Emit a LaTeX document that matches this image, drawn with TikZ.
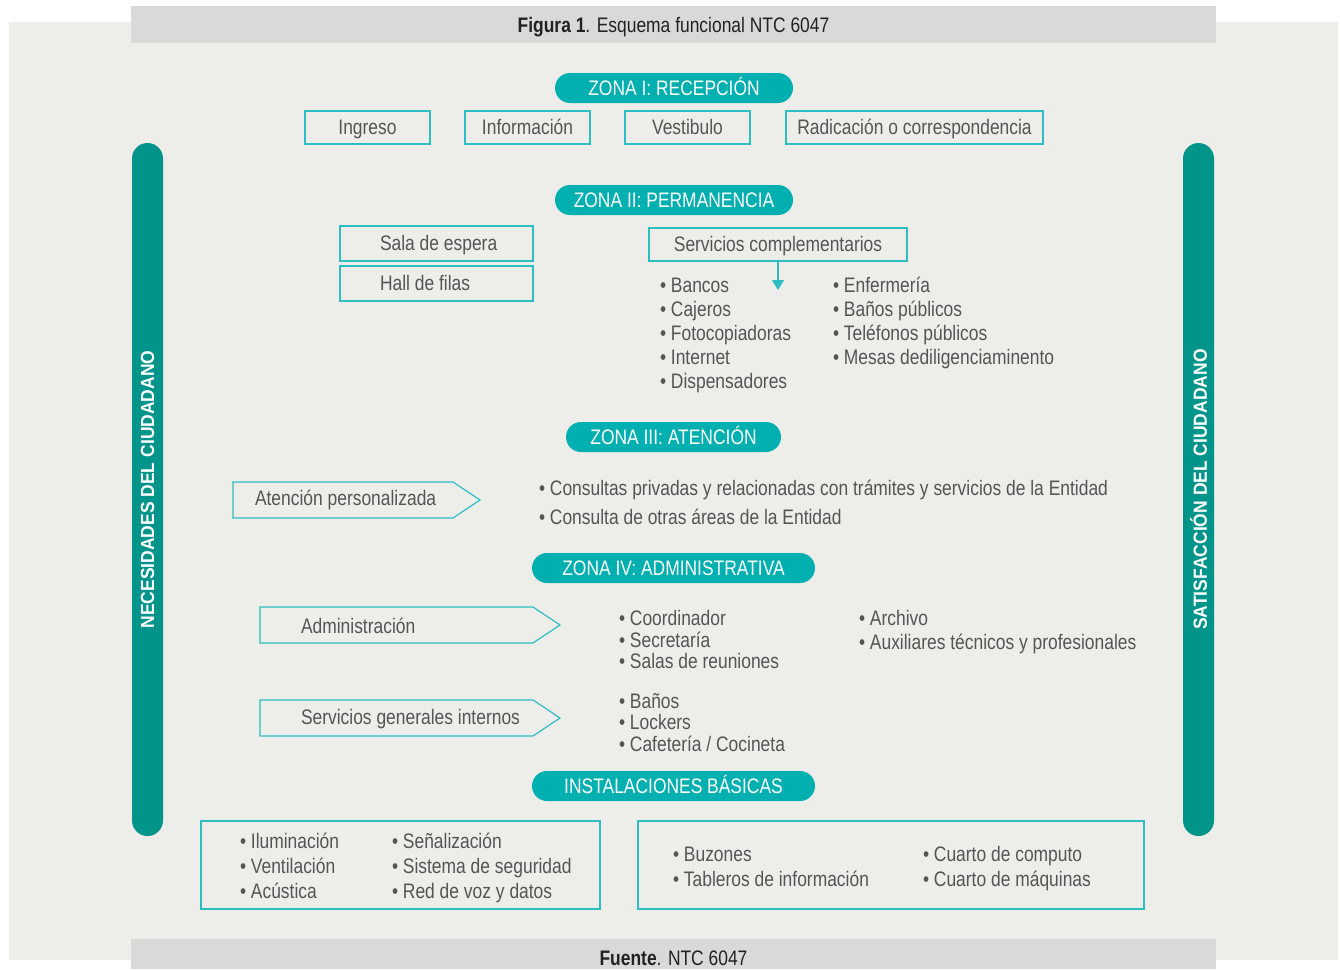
\documentclass[tikz,border=0pt]{standalone}
\usepackage{fontspec}
\setmainfont{Liberation Sans}[FakeStretch=0.83]
\newfontfamily\barfont{Liberation Sans}[FakeStretch=0.92]
\usetikzlibrary{arrows.meta}
\definecolor{panel}{HTML}{EDEDE9}
\definecolor{hdr}{HTML}{D9D9D7}
\definecolor{barc}{HTML}{00948A}
\definecolor{pillc}{HTML}{00AFAF}
\definecolor{boxc}{HTML}{2DBDC3}
\definecolor{txtc}{HTML}{555555}
\definecolor{darkc}{HTML}{222222}
\begin{document}
\begin{tikzpicture}[x=1pt,y=-1pt,
  every node/.style={inner sep=0pt, outer sep=0pt},
  tx/.style={text=txtc, font=\fontsize{21}{25}\selectfont, text height=15pt, text depth=1pt, anchor=west},
  boxst/.style={draw=boxc, line width=1.2pt, text=txtc, font=\fontsize{21}{25}\selectfont, text height=15pt, text depth=1pt},
  pillst/.style={fill=pillc, rounded corners=15pt, minimum height=30pt, text=white, font=\fontsize{21}{25}\selectfont, text height=15pt, text depth=1pt},
  barst/.style={fill=barc, rounded corners=15.5pt, minimum width=693pt, minimum height=31pt, text=white, font=\barfont\bfseries\fontsize{19}{23}\selectfont, rotate=90},
  arrowbox/.style={draw=boxc, line width=1.2pt},
  hdrtx/.style={text=darkc, font=\fontsize{21}{25}\selectfont, text height=15pt, text depth=1pt}
]
\useasboundingbox (0,0) rectangle (1340,969);
\fill[white] (0,0) rectangle (1340,969);
\fill[panel] (9,22) rectangle (1338,960);
% header and footer
\fill[hdr] (131,6) rectangle (1216,43);
\node[hdrtx] (hdr) at (673.5,25.5) {\textbf{Figura 1}. Esquema funcional NTC 6047};
\fill[hdr] (131,939) rectangle (1216,969);
\node[hdrtx] (fte) at (673.5,958) {\textbf{Fuente}. NTC 6047};
% side bars
\node[barst] (nec) at (147.5,489.5) {NECESIDADES DEL CIUDADANO};
\node[barst] (sat) at (1198.5,489.5) {SATISFACCIÓN DEL CIUDADANO};
% Zona I
\node[pillst, minimum width=238pt] (z1) at (674,88) {ZONA I: RECEPCIÓN};
\node[boxst, minimum width=125pt, minimum height=33pt] (ing) at (367.5,127.5) {Ingreso};
\node[boxst, minimum width=125pt, minimum height=33pt] (inf) at (527.5,127.5) {Información};
\node[boxst, minimum width=125pt, minimum height=33pt] (ves) at (687.5,127.5) {Vestibulo};
\node[boxst, minimum width=257pt, minimum height=33pt] (rad) at (914.5,127.5) {Radicación o correspondencia};
% Zona II
\node[pillst, minimum width=238pt] (z2) at (674,200) {ZONA II: PERMANENCIA};
\node[boxst, minimum width=193pt, minimum height=35pt] (sala) at (436.5,243.5) {};
\node[tx] (salat) at ([xshift=40pt]sala.west) {Sala de espera};
\node[boxst, minimum width=193pt, minimum height=35pt] (hall) at (436.5,283.5) {};
\node[tx] (hallt) at ([xshift=40pt]hall.west) {Hall de filas};
\node[boxst, minimum width=258pt, minimum height=33pt] (serv) at (778,244.5) {Servicios complementarios};
\coordinate (servtip) at (778,290);
\draw[boxc, line width=1.4pt, -{Triangle[width=12pt,length=10pt]}] (serv.south) -- (servtip);
\foreach \s [count=\i] in {Bancos,Cajeros,Fotocopiadoras,Internet,Dispensadores}
  \node[tx] (sa\i) at (660,261+24*\i) {• \s};
\foreach \s [count=\i] in {Enfermería,Baños públicos,Teléfonos públicos,Mesas dediligenciaminento}
  \node[tx] (sb\i) at (833,261+24*\i) {• \s};
% Zona III
\node[pillst, minimum width=215pt] (z3) at (673.5,437) {ZONA III: ATENCIÓN};
\draw[arrowbox] (233,482) -- (453,482) -- (480,500) -- (453,518) -- (233,518) -- cycle;
\node[tx] (aten) at (255,498) {Atención personalizada};
\node[tx] (c1) at (539,488) {• Consultas privadas y relacionadas con trámites y servicios de la Entidad};
\node[tx] (c2) at (539,517) {• Consulta de otras áreas de la Entidad};
% Zona IV
\node[pillst, minimum width=283pt] (z4) at (673.5,568) {ZONA IV: ADMINISTRATIVA};
\draw[arrowbox] (260,607) -- (533,607) -- (560,625) -- (533,643) -- (260,643) -- cycle;
\node[tx] (adm) at (301,626) {Administración};
\draw[arrowbox] (260,700) -- (533,700) -- (560,718) -- (533,736) -- (260,736) -- cycle;
\node[tx] (sgi) at (301,717) {Servicios generales internos};
\node[tx] (a1) at (619,618) {• Coordinador};
\node[tx] (a2) at (619,640) {• Secretaría};
\node[tx] (a3) at (619,661) {• Salas de reuniones};
\node[tx] (a4) at (859,618) {• Archivo};
\node[tx] (a5) at (859,642) {• Auxiliares técnicos y profesionales};
\node[tx] (g1) at (619,701) {• Baños};
\node[tx] (g2) at (619,722) {• Lockers};
\node[tx] (g3) at (619,744) {• Cafetería / Cocineta};
% Instalaciones
\node[pillst, minimum width=283pt] (z5) at (673.5,786) {INSTALACIONES BÁSICAS};
\node[boxst, minimum width=399pt, minimum height=88pt] (ib1) at (400.5,865) {};
\node[boxst, minimum width=506pt, minimum height=88pt] (ib2) at (891,865) {};
\node[tx] (i1) at (240,841) {• Iluminación};
\node[tx] (i2) at (240,866) {• Ventilación};
\node[tx] (i3) at (240,891) {• Acústica};
\node[tx] (i4) at (392,841) {• Señalización};
\node[tx] (i5) at (392,866) {• Sistema de seguridad};
\node[tx] (i6) at (392,891) {• Red de voz y datos};
\node[tx] (j1) at (673,854) {• Buzones};
\node[tx] (j2) at (673,879) {• Tableros de información};
\node[tx] (j3) at (923,854) {• Cuarto de computo};
\node[tx] (j4) at (923,879) {• Cuarto de máquinas};
\end{tikzpicture}
\end{document}
